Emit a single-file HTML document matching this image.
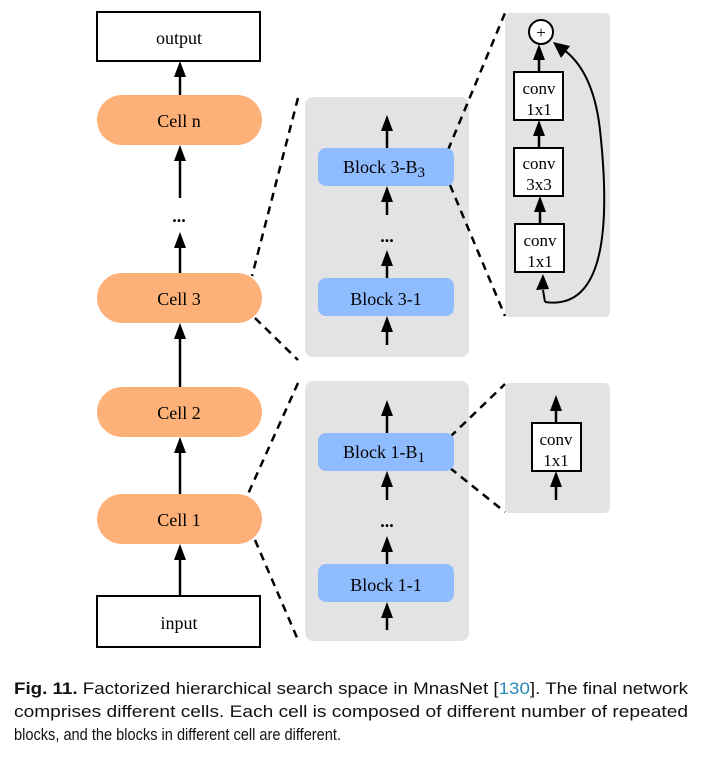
<!DOCTYPE html>
<html><head><meta charset="utf-8"><style>body{margin:0;background:#fff}svg{display:block}</style></head><body>
<svg width="702" height="777" viewBox="0 0 702 777" xmlns="http://www.w3.org/2000/svg" font-family="Liberation Serif, serif">
<g fill="#e3e3e3"><rect x="305" y="97" width="164" height="260" rx="8"/><rect x="305" y="381" width="164" height="260" rx="8"/><rect x="505" y="13" width="105" height="304" rx="5"/><rect x="505" y="383" width="105" height="130" rx="5"/></g>
<g stroke="#000" stroke-width="2.5" stroke-dasharray="8,6" fill="none">
<line x1="298" y1="98" x2="252" y2="276"/><line x1="255" y1="318" x2="298" y2="360"/>
<line x1="298" y1="383" x2="248" y2="494"/><line x1="255" y1="540" x2="298" y2="640"/>
<line x1="448" y1="150" x2="505" y2="13"/><line x1="450" y1="185" x2="505" y2="316"/>
<line x1="450" y1="437" x2="505" y2="384"/><line x1="450" y1="468" x2="505" y2="512"/>
</g>
<rect x="97" y="12" width="163" height="49" fill="#fff" stroke="#000" stroke-width="2"/>
<rect x="97" y="596" width="163" height="51" fill="#fff" stroke="#000" stroke-width="2"/>
<g fill="#fdb077"><rect x="97" y="95" width="165" height="50" rx="25"/><rect x="97" y="273" width="165" height="50" rx="25"/><rect x="97" y="387" width="165" height="50" rx="25"/><rect x="97" y="494" width="165" height="50" rx="25"/></g>
<g fill="#8fbbff"><rect x="318" y="148" width="136" height="38" rx="8"/><rect x="318" y="278" width="136" height="38" rx="8"/><rect x="318" y="433" width="136" height="38" rx="8"/><rect x="318" y="564" width="136" height="38" rx="8"/></g>
<g fill="#fff" stroke="#000" stroke-width="2"><rect x="514" y="72" width="49" height="48"/><rect x="514" y="148" width="49" height="48"/><rect x="515" y="224" width="49" height="48"/><rect x="532" y="423" width="49" height="48"/><circle cx="541" cy="32" r="12"/></g>
<g stroke="#000" stroke-width="2.5" fill="none">
<line x1="180" y1="95" x2="180" y2="70"/><line x1="180" y1="198" x2="180" y2="154"/><line x1="180" y1="273" x2="180" y2="241"/>
<line x1="180" y1="387" x2="180" y2="332"/><line x1="180" y1="494" x2="180" y2="446"/><line x1="180" y1="596" x2="180" y2="553"/>
<line x1="387" y1="148" x2="387" y2="124"/><line x1="387" y1="215" x2="387" y2="195"/><line x1="387" y1="278" x2="387" y2="259"/><line x1="387" y1="345" x2="387" y2="325"/>
<line x1="387" y1="433" x2="387" y2="409"/><line x1="387" y1="500" x2="387" y2="480"/><line x1="387" y1="564" x2="387" y2="545"/><line x1="387" y1="630" x2="387" y2="611"/>
<line x1="539" y1="72" x2="539" y2="53"/><line x1="539" y1="148" x2="539" y2="129"/><line x1="540" y1="224" x2="540" y2="205"/>
<line x1="556" y1="500" x2="556" y2="480"/><line x1="556" y1="423" x2="556" y2="404"/>
<path d="M545,302 C600,310 612,240 600,130 C595,85 580,60 560,47" stroke-width="2"/>
<line x1="545" y1="302" x2="543" y2="290" stroke-width="2"/>
</g>
<g fill="#000">
<polygon points="180,61 174,77 186,77"/><polygon points="180,145 174,161 186,161"/><polygon points="180,232 174,248 186,248"/>
<polygon points="180,323 174,339 186,339"/><polygon points="180,437 174,453 186,453"/><polygon points="180,544 174,560 186,560"/>
<polygon points="387,115 381,131 393,131"/><polygon points="387,186 381,202 393,202"/><polygon points="387,250 381,266 393,266"/><polygon points="387,316 381,332 393,332"/>
<polygon points="387,400 381,416 393,416"/><polygon points="387,471 381,487 393,487"/><polygon points="387,536 381,552 393,552"/><polygon points="387,602 381,618 393,618"/>
<polygon points="539,44 533,60 545,60"/><polygon points="539,120 533,136 545,136"/><polygon points="540,196 534,212 546,212"/>
<polygon points="556,471 550,487 562,487"/><polygon points="556,395 550,411 562,411"/>
<polygon points="543,274 536,290 549,289"/>
<polygon points="553,42 570,46 561,58"/>
</g>
<g font-size="18" text-anchor="middle" fill="#000">
<text x="179" y="44">output</text><text x="179" y="127">Cell n</text><text x="179" y="305">Cell 3</text><text x="179" y="419">Cell 2</text><text x="179" y="526">Cell 1</text><text x="179" y="629">input</text>
<text x="179" y="222" font-weight="bold">...</text><text x="387" y="242" font-weight="bold">...</text><text x="387" y="527" font-weight="bold">...</text>
<text x="384" y="173">Block 3-B<tspan font-size="15" dy="4">3</tspan></text>
<text x="386" y="305">Block 3-1</text>
<text x="384" y="458">Block 1-B<tspan font-size="15" dy="4">1</tspan></text>
<text x="386" y="591">Block 1-1</text>
<text x="541" y="38" font-size="17">+</text>
</g>
<g font-size="17" text-anchor="middle">
<text x="539" y="94">conv</text><text x="539" y="115">1x1</text>
<text x="539" y="169">conv</text><text x="539" y="190">3x3</text>
<text x="540" y="246">conv</text><text x="540" y="267">1x1</text>
<text x="556" y="445">conv</text><text x="556" y="466">1x1</text>
</g>
<g font-family="Liberation Sans, sans-serif" font-size="17" fill="#111">
<text x="14" y="694" textLength="674" lengthAdjust="spacingAndGlyphs"><tspan font-weight="bold">Fig. 11.</tspan>  Factorized hierarchical search space in MnasNet [<tspan fill="#2a8ab8">130</tspan>]. The final network</text>
<text x="14" y="717" textLength="674" lengthAdjust="spacingAndGlyphs">comprises different cells. Each cell is composed of different number of repeated</text>
<text x="14" y="740" textLength="327" lengthAdjust="spacingAndGlyphs">blocks, and the blocks in different cell are different.</text>
</g>
</svg>
</body></html>
